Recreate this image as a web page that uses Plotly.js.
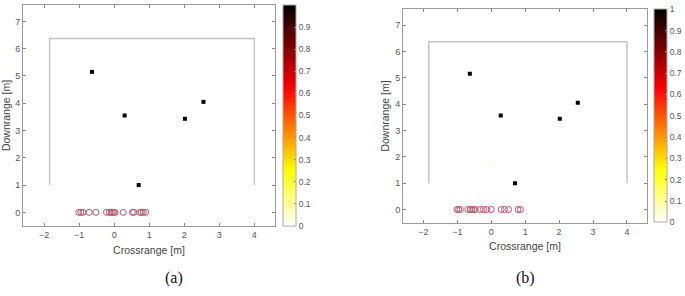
<!DOCTYPE html>
<html><head><meta charset="utf-8">
<script src="https://cdn.plot.ly/plotly-3.0.1.min.js"></script>
<style>body{margin:0;background:#fff}#c{width:685px;height:296px}</style>
</head><body><div id="c"></div>
<script>
// Targets (same in both panels)
const targetXA = [-0.63, 0.30, 2.02, 2.55, 0.70];
const targetYA = [5.15, 3.55, 3.43, 4.05, 1.00];
const targetVA = [1, 1, 1, 1, 1];
const targetXB = [-0.63, 0.28, 2.02, 2.55, 0.70, 0.00];
const targetYB = [5.15, 3.57, 3.45, 4.05, 1.00, 1.70];
const targetVB = [1, 1, 1, 1, 1, 0.04];
// Array element positions (red circles) at downrange 0
const arrayXA = [-1.01, -0.95, -0.89, -0.71, -0.52, -0.22, -0.14, -0.08, -0.05, -0.01, 0.03, 0.26, 0.52, 0.56, 0.73, 0.78, 0.83, 0.90];
const arrayXB = [-1.01, -0.96, -0.91, -0.69, -0.62, -0.57, -0.52, -0.47, -0.33, -0.23, -0.13, 0.00, 0.29, 0.39, 0.51, 0.79, 0.86];
// Scene boundary (open at bottom)
const boxX = [-1.84, -1.84, 4, 4];
const boxY = [1, 6.37, 6.37, 1];
const xTicks = [-2, -1, 0, 1, 2, 3, 4];
const yTicks = [0, 1, 2, 3, 4, 5, 6, 7];
const cbTicks = [0, 0.1, 0.2, 0.3, 0.4, 0.5, 0.6, 0.7, 0.8, 0.9, 1];
const panelLabels = ['(a)', '(b)'];

const circleColor = 'rgb(178,88,108)';
const gray = '#555';
const SANS = '"Liberation Sans", Arial, sans-serif';
const hotR = [[0,'rgb(255,255,255)'],[0.25,'rgb(255,255,0)'],[0.625,'rgb(255,0,0)'],[1,'rgb(0,0,0)']];

function traces(xa, ya, tx, ty, tv, ax, ca) {
  return [
    {x: boxX, y: boxY, xaxis: xa, yaxis: ya, mode: 'lines', type: 'scatter',
     line: {color: '#c4c4c4', width: 1.5}, hoverinfo: 'skip', showlegend: false},
    {x: ax, y: ax.map(() => 0), xaxis: xa, yaxis: ya, mode: 'markers', type: 'scatter',
     marker: {symbol: 'circle-open', size: 6, color: circleColor, line: {width: 1, color: circleColor}}, showlegend: false},
    {x: tx, y: ty, xaxis: xa, yaxis: ya, mode: 'markers', type: 'scatter',
     marker: {symbol: 'square', size: 4, color: tv, coloraxis: ca}, showlegend: false}
  ];
}

const data = [].concat(
  traces('x', 'y', targetXA, targetYA, targetVA, arrayXA, 'coloraxis'),
  traces('x2', 'y2', targetXB, targetYB, targetVB, arrayXB, 'coloraxis2')
);

function xax(domain, anchor) {
  return {domain: domain, anchor: anchor, range: [-2.6, 4.59], tickvals: xTicks,
    ticks: 'inside', ticklen: 3, tickcolor: '#888', showline: true, linecolor: '#9a9a9a', linewidth: 1,
    mirror: 'ticks', showgrid: false, zeroline: false,
    tickfont: {size: 9, color: gray, family: SANS},
    title: {text: 'Crossrange [m]', font: {size: 10.5, color: '#444', family: SANS}, standoff: 7}};
}
function yax(domain, anchor) {
  return {domain: domain, anchor: anchor, range: [-0.5, 7.6], tickvals: yTicks,
    ticks: 'inside', ticklen: 3, tickcolor: '#888', showline: true, linecolor: '#9a9a9a', linewidth: 1,
    mirror: 'ticks', showgrid: false, zeroline: false,
    tickfont: {size: 9, color: gray, family: SANS},
    title: {text: 'Downrange [m]', font: {size: 10.5, color: '#444', family: SANS}, standoff: 3}};
}
function cbar(x, y, len) {
  return {cmin: 0, cmax: 1, colorscale: hotR,
    colorbar: {x: x, xanchor: 'left', y: y, yanchor: 'top', len: len, lenmode: 'pixels',
      thickness: 13, thicknessmode: 'pixels', xpad: 0, ypad: 0,
      outlinewidth: 1, outlinecolor: '#aaa', tickvals: cbTicks, ticks: 'inside', ticklen: 2, tickcolor: '#888',
      tickfont: {size: 8.5, color: gray, family: SANS}}};
}

const layout = {
  width: 685, height: 296, margin: {l: 0, r: 0, t: 0, b: 0},
  paper_bgcolor: '#fff', plot_bgcolor: '#fff', showlegend: false,
  xaxis: xax([23/685, 275/685], 'y'),
  yaxis: yax([1 - 226/296, 1 - 5/296], 'x'),
  xaxis2: xax([403/685, 647/685], 'y2'),
  yaxis2: yax([1 - 222.7/296, 1 - 9.3/296], 'x2'),
  coloraxis: cbar(283/685, 1 - 5/296, 221),
  coloraxis2: cbar(654/685, 1 - 9.3/296, 213.4),
  annotations: [
    {text: panelLabels[0], x: 163/685, y: 1 - 289/296, xref: 'paper', yref: 'paper', showarrow: false,
     font: {size: 16, color: '#111', family: '"Liberation Serif", "Times New Roman", serif'}},
    {text: panelLabels[1], x: 537/685, y: 1 - 289/296, xref: 'paper', yref: 'paper', showarrow: false,
     font: {size: 16, color: '#111', family: '"Liberation Serif", "Times New Roman", serif'}}
  ]
};
Plotly.newPlot('c', data, layout, {displayModeBar: false, staticPlot: true});
</script></body></html>
